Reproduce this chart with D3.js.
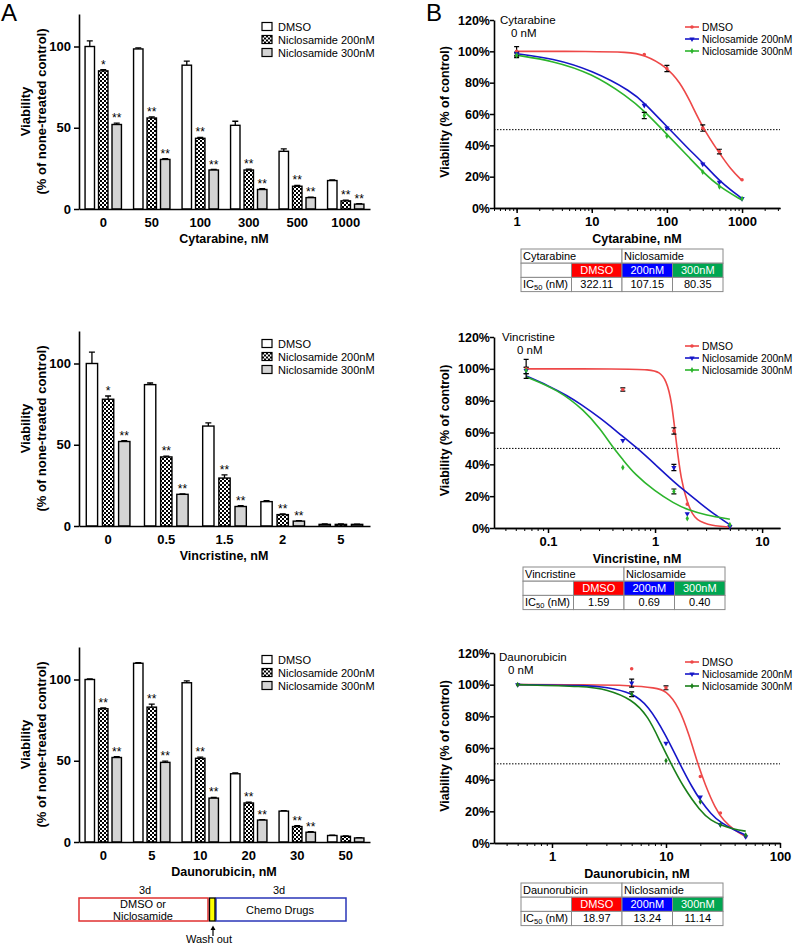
<!DOCTYPE html>
<html>
<head>
<meta charset="utf-8">
<script src="https://cdn.jsdelivr.net/npm/d3@7"></script>
<style>
  body { margin: 0; background: #fff; }
  svg { display: block; font-family: Arial, "Liberation Sans", sans-serif; }
</style>
</head>
<body>
<svg id="chart" width="794" height="944"></svg>
<script>
// ---------- data ----------
let groups = ['DMSO', 'Niclosamide 200nM', 'Niclosamide 300nM']

// panel A: viability, % of none-treated control
let cytDoses = ['0', '50', '100', '300', '500', '1000']
let cytBarDMSO = [100, 98.5, 88.5, 51.5, 35.5, 17.5]
let cytBar200 = [85, 56, 43.5, 24, 14, 5]
let cytBar300 = [52, 30.5, 24, 12, 7, 3]
let cytErrDMSO = [3.5, 0.7, 2.5, 2.5, 1.5, 0.4]
let cytErr200 = [0.7, 0.7, 0.6, 0.5, 0.5, 0.5]
let cytErr300 = [0.8, 0.5, 0.3, 0.5, 0.3, 0.3]
let cytStars200 = ['*', '**', '**', '**', '**', '**']
let cytStars300 = ['**', '**', '**', '**', '**', '**']

let vinDoses = ['0', '0.5', '1.5', '2', '5']
let vinBarDMSO = [100, 87, 61.5, 15, 1]
let vinBar200 = [78, 42.5, 29.5, 7, 1]
let vinBar300 = [52, 19.5, 12, 3, 1]
let vinErrDMSO = [7, 1, 2, 0.6, 0.3]
let vinErr200 = [2, 0.5, 2, 0.4, 0.3]
let vinErr300 = [0.6, 0.3, 0.6, 0.3, 0.2]
let vinStars200 = ['*', '**', '**', '**', '']
let vinStars300 = ['**', '**', '**', '**', '']

let dauDoses = ['0', '5', '10', '20', '30', '50']
let dauBarDMSO = [100, 110, 98, 42, 19, 4]
let dauBar200 = [82, 83, 51.5, 24, 9.5, 3.5]
let dauBar300 = [52, 49, 27, 13.5, 6, 2.5]
let dauErrDMSO = [0.3, 0.4, 1.2, 0.5, 0.3, 0.2]
let dauErr200 = [0.6, 1.8, 0.7, 0.5, 0.5, 0.3]
let dauErr300 = [0.5, 0.8, 0.4, 0.3, 0.3, 0.2]
let dauStars200 = ['**', '**', '**', '**', '**', '']
let dauStars300 = ['**', '**', '**', '**', '**', '']

// panel B: viability, % of control, with fitted curves
let cytConc = [1, 50, 100, 300, 500, 1000]
let cytPctDMSO = [100, 98, 89, 51, 36, 18]
let cytPct200 = [98.5, 65.5, 51, 28, 16.5, 6]
let cytPct300 = [97.5, 59, 46, 23, 13.5, 6]
let cytPctErrDMSO = [3, 0.5, 2, 2, 1.5, 0.5]
let cytPctErr200 = [1, 0.5, 0.5, 0.8, 0.5, 0.5]
let cytPctErr300 = [1.5, 2, 0.5, 0.5, 0.5, 0.5]
let cytFitDMSO = [[1, 100], [10, 100], [30, 99.5], [50, 98], [100, 90], [150, 80], [200, 69], [300, 51], [500, 35], [700, 25], [1000, 17.5]]
let cytFit200 = [[1, 98.5], [3, 95.5], [10, 88], [35, 74], [50, 67], [100, 52], [200, 37], [300, 29], [500, 17], [1000, 6]]
let cytFit300 = [[1, 97.5], [3, 94], [10, 86], [30, 71], [50, 62], [100, 47], [200, 32], [300, 23], [500, 13.5], [1000, 5]]
let cytIC50 = ['322.11', '107.15', '80.35']

let vinConc = [0.0625, 0.5, 1.5, 2, 5]
let vinPctDMSO = [100, 87, 61, 15, 1]
let vinPct200 = [99, 55, 38, 9, 1]
let vinPct300 = [99, 38, 23, 6, 2]
let vinPctErrDMSO = [6, 1, 2, 0.5, 0.3]
let vinPctErr200 = [2, 0.5, 2, 0.5, 0.3]
let vinPctErr300 = [2, 0.5, 1.5, 0.5, 0.3]
let vinFitDMSO = [[0.0625, 100], [0.5, 100], [0.9, 99.5], [1.1, 98], [1.27, 93], [1.43, 80], [1.57, 55], [1.75, 30], [2, 16], [2.3, 6], [3, 2], [5, 0.5]]
let vinFit200 = [[0.0625, 95.5], [0.1, 89.5], [0.153, 83], [0.2, 78], [0.31, 69], [0.45, 60], [0.69, 50], [1, 40], [1.5, 29], [2, 22], [2.7, 15], [3.5, 9], [5, 2]]
let vinFit300 = [[0.0625, 95], [0.123, 87], [0.218, 74], [0.31, 62], [0.4, 51], [0.5, 43], [0.64, 34], [1, 23], [1.5, 15.5], [2, 11.5], [3, 8], [5, 5.5]]
let vinIC50 = ['1.59', '0.69', '0.40']

let dauConc = [0.5, 5, 10, 20, 30, 50]
let dauPctDMSO = [100, 110, 98, 42, 19, 4]
let dauPct200 = [100, 101, 63, 29, 11.5, 4]
let dauPct300 = [100, 94, 52, 26, 11.5, 5]
let dauPctErrDMSO = [0.5, 0.3, 1.2, 0.5, 0.3, 0.3]
let dauPctErr200 = [0.5, 2.5, 0.5, 0.5, 0.5, 0.3]
let dauPctErr300 = [0.5, 1.5, 0.5, 0.5, 0.5, 0.3]
let dauFitDMSO = [[0.5, 100], [2, 100], [5, 99.5], [8, 98], [10, 96.5], [13, 86], [16, 68], [19, 50], [22, 37], [27, 22], [32, 14], [40, 8], [50, 4]]
let dauFit200 = [[0.5, 100], [2, 99.5], [3, 98.5], [5, 95], [7, 87], [10, 68], [13.2, 50], [17, 35], [20, 27], [25, 18], [30, 13], [40, 8], [50, 5]]
let dauFit300 = [[0.5, 100], [2, 99], [3, 97], [5, 91], [7, 80], [9, 63], [11.1, 50], [14, 36], [20, 20], [25, 14], [30, 11.5], [40, 8.5], [50, 7.5]]
let dauIC50 = ['18.97', '13.24', '11.14']

// ---------- setup ----------
let FONT = 'Arial, "Liberation Sans", sans-serif'
let svg = d3.select('#chart')
let defs = svg.append('defs')
let pat = defs.append('pattern').attr('id', 'checks')
    .attr('width', 4).attr('height', 4).attr('patternUnits', 'userSpaceOnUse')
pat.append('rect').attr('width', 4).attr('height', 4).attr('fill', '#fff')
pat.append('rect').attr('width', 2).attr('height', 2).attr('fill', '#000')
pat.append('rect').attr('x', 2).attr('y', 2).attr('width', 2).attr('height', 2).attr('fill', '#000')

let barFills = ['#fff', 'url(#checks)', '#d4d4d4']
let cellFills = ['#ff0000', '#0000ff', '#00a651']

let styleAxis = (sel, size) => {
    sel.attr('font-family', FONT)
    sel.selectAll('text').attr('font-size', size).attr('font-weight', 'bold').attr('fill', '#000')
    sel.selectAll('line').attr('stroke-width', 1.5)
    sel.select('.domain').attr('stroke-width', 1.6)
}

// ---------- bar panels (A) ----------
let drawBars = (top, doses, vals, errs, stars, title) => {
    let g = svg.append('g')
    let y = d3.scaleLinear().domain([0, 120]).range([top + 195, top])
    let x = d3.scaleBand().domain(doses).range([79, 370]).paddingInner(0.25).paddingOuter(0.125)
    let xs = d3.scaleBand().domain(groups).range([0, x.bandwidth()]).paddingInner(0.3)
    let rows = doses.flatMap((d, i) => groups.map((grp, k) => ({
        dose: d, grp: grp, k: k, v: vals[k][i], e: errs[k][i], s: k ? stars[k - 1][i] : ''
    })))
    let bx = r => x(r.dose) + xs(r.grp)
    let cx = r => bx(r) + xs.bandwidth() / 2

    g.selectAll('.err').data(rows).enter().append('path')
        .attr('d', r => `M${cx(r)},${y(r.v)}V${y(r.v + r.e)}M${cx(r) - 3},${y(r.v + r.e)}H${cx(r) + 3}`)
        .attr('stroke', '#000').attr('stroke-width', 1.3).attr('fill', 'none')

    g.selectAll('.bar').data(rows).enter().append('rect')
        .attr('x', bx).attr('y', r => y(r.v))
        .attr('width', xs.bandwidth()).attr('height', r => y(0) - y(r.v))
        .attr('fill', r => barFills[r.k]).attr('stroke', '#000').attr('stroke-width', 1.4)

    g.selectAll('.star').data(rows.filter(r => r.s)).enter().append('text')
        .attr('x', cx).attr('y', r => y(r.v + r.e) - 1)
        .attr('text-anchor', 'middle').attr('font-size', 12).text(r => r.s)

    let ya = g.append('g').attr('transform', 'translate(79,0)')
        .call(d3.axisLeft(y).tickValues([0, 50, 100]).tickSize(5).tickSizeOuter(0).tickPadding(3))
    styleAxis(ya, 13)
    let xa = g.append('g').attr('transform', `translate(0,${y(0)})`)
        .call(d3.axisBottom(x).tickSize(0).tickPadding(9))
    styleAxis(xa, 13)

    g.append('text').attr('x', 224).attr('y', y(0) + 34).attr('text-anchor', 'middle')
        .attr('font-size', 12.5).attr('font-weight', 'bold').text(title)
    let mid = (y(0) + y(120)) / 2
    g.append('text').attr('transform', `translate(25,${mid}) rotate(-90)`).attr('dy', '0.35em')
        .attr('text-anchor', 'middle').attr('font-size', 13).attr('font-weight', 'bold').text('Viability')
    g.append('text').attr('transform', `translate(41,${mid}) rotate(-90)`).attr('dy', '0.35em')
        .attr('text-anchor', 'middle').attr('font-size', 13).attr('font-weight', 'bold')
        .text('(% of none-treated control)')

    let leg = g.selectAll('.leg').data(groups).enter().append('g')
        .attr('transform', (d, k) => `translate(262,${top + 12.5 + k * 13})`)
    leg.append('rect').attr('x', 0).attr('y', -4).attr('width', 10).attr('height', 8)
        .attr('fill', (d, k) => barFills[k]).attr('stroke', '#000').attr('stroke-width', 1.2)
    leg.append('text').attr('x', 16).attr('y', 4).attr('font-size', 11).text(d => d)
}

// ---------- dose-response panels (B) ----------
let symbols = [
    d3.symbol().type(d3.symbolCircle).size(10)(),
    d3.symbol().type(d3.symbolTriangle).size(12)(),
    d3.symbol().type(d3.symbolDiamond).size(10)()
]
let symRot = [0, 180, 0]

let drawCurves = p => {
    let g = svg.append('g')
    let y = d3.scaleLinear().domain([0, 120]).range([p.bottom, p.top])
    let x = d3.scaleLog().domain(p.domain).range([494, 780])

    let minor = g.append('g').attr('transform', `translate(0,${p.bottom})`)
        .call(d3.axisBottom(x).tickValues(x.ticks()).tickSize(3).tickSizeOuter(0).tickFormat(''))
    styleAxis(minor, 13)
    minor.selectAll('line').attr('stroke-width', 1)
    let major = g.append('g').attr('transform', `translate(0,${p.bottom})`)
        .call(d3.axisBottom(x).tickValues(p.majors).tickSize(5).tickSizeOuter(0).tickPadding(4).tickFormat(d3.format('~g')))
    styleAxis(major, 13)
    let ya = g.append('g').attr('transform', 'translate(494,0)')
        .call(d3.axisLeft(y).tickValues([0, 20, 40, 60, 80, 100, 120]).tickFormat(d => d + '%')
            .tickSize(4).tickSizeOuter(0).tickPadding(0))
    styleAxis(ya, 12.5)

    g.append('path').attr('d', `M494,${y(50)}H780`).attr('stroke', '#000')
        .attr('stroke-width', 1).attr('stroke-dasharray', '1.5,1.5')

    let line = d3.line().x(d => x(d[0])).y(d => y(d[1])).curve(d3.curveBasis)
    g.selectAll('.fit').data(p.fits).enter().append('path')
        .attr('d', line).attr('fill', 'none')
        .attr('stroke', (d, k) => p.colors[k]).attr('stroke-width', 1.6)

    let pts = p.pcts.flatMap((arr, k) => arr.map((v, i) => ({k: k, c: p.conc[i], v: v, e: p.errs[k][i]})))
    g.selectAll('.perr').data(pts.filter(d => d.e >= 1)).enter().append('path')
        .attr('d', d => {
            let px = x(d.c), y1 = y(d.v - d.e), y2 = y(d.v + d.e)
            return `M${px},${y1}V${y2}M${px - 2.5},${y1}H${px + 2.5}M${px - 2.5},${y2}H${px + 2.5}`
        })
        .attr('stroke', '#000').attr('stroke-width', 1.2).attr('fill', 'none')
    g.selectAll('.pt').data(pts).enter().append('path')
        .attr('d', d => symbols[d.k])
        .attr('transform', d => `translate(${x(d.c)},${y(d.v)}) rotate(${symRot[d.k]})`)
        .attr('fill', d => p.colors[d.k])

    g.append('text').attr('x', 637).attr('y', p.bottom + 35).attr('text-anchor', 'middle')
        .attr('font-size', 12.5).attr('font-weight', 'bold').text(p.title)
    g.append('text').attr('transform', `translate(445,${(p.top + p.bottom) / 2 - 2}) rotate(-90)`)
        .attr('dy', '0.35em').attr('text-anchor', 'middle')
        .attr('font-size', 12.5).attr('font-weight', 'bold').text('Viability (% of control)')

    g.append('text').attr('x', p.labelX[0]).attr('y', p.labelY).attr('font-size', 11.5).text(p.drug)
    g.append('text').attr('x', p.labelX[1]).attr('y', p.labelY + 13).attr('font-size', 11.5).text('0 nM')

    let leg = g.selectAll('.leg').data(groups).enter().append('g')
        .attr('transform', (d, k) => `translate(685,${p.top + p.legendDy + k * 12})`)
    leg.append('line').attr('x1', 0).attr('x2', 14)
        .attr('stroke', (d, k) => p.colors[k]).attr('stroke-width', 1.6)
    leg.append('path').attr('d', (d, k) => symbols[k])
        .attr('transform', (d, k) => `translate(7,0) rotate(${symRot[k]})`)
        .attr('fill', (d, k) => p.colors[k])
    leg.append('text').attr('x', 17).attr('y', 4).attr('font-size', 10.3).text(d => d)

    drawTable(p.table[0], p.table[1], p.drug, p.ic50)
}

// ---------- IC50 tables ----------
let drawTable = (x0, y0, drug, ic50) => {
    let g = svg.append('g').attr('font-size', 11)
    let cw = 50.5, rh = 14.2
    let cells = [
        {c: 0, r: 0, span: 2, text: drug, fill: '#fff', color: '#000', anchor: 'start'},
        {c: 2, r: 0, span: 2, text: 'Niclosamide', fill: '#fff', color: '#000', anchor: 'start'},
        {c: 0, r: 1, span: 1, text: '', fill: '#fff', color: '#000', anchor: 'middle'},
        {c: 1, r: 1, span: 1, text: 'DMSO', fill: cellFills[0], color: '#fff', anchor: 'middle'},
        {c: 2, r: 1, span: 1, text: '200nM', fill: cellFills[1], color: '#fff', anchor: 'middle'},
        {c: 3, r: 1, span: 1, text: '300nM', fill: cellFills[2], color: '#fff', anchor: 'middle'},
        {c: 0, r: 2, span: 1, text: null, fill: '#fff', color: '#000', anchor: 'start'},
        {c: 1, r: 2, span: 1, text: ic50[0], fill: '#fff', color: '#000', anchor: 'middle'},
        {c: 2, r: 2, span: 1, text: ic50[1], fill: '#fff', color: '#000', anchor: 'middle'},
        {c: 3, r: 2, span: 1, text: ic50[2], fill: '#fff', color: '#000', anchor: 'middle'}
    ]
    g.selectAll('rect').data(cells).enter().append('rect')
        .attr('x', d => x0 + d.c * cw).attr('y', d => y0 + d.r * rh)
        .attr('width', d => d.span * cw).attr('height', rh)
        .attr('fill', d => d.fill).attr('stroke', '#8a8a8a').attr('stroke-width', 1)
    g.selectAll('.cell').data(cells.filter(d => d.text)).enter().append('text')
        .attr('x', d => d.anchor === 'start' ? x0 + d.c * cw + 2 : x0 + (d.c + d.span / 2) * cw)
        .attr('y', d => y0 + d.r * rh + 10.8)
        .attr('text-anchor', d => d.anchor).attr('fill', d => d.color).text(d => d.text)
    let ic = g.append('text').attr('x', x0 + 2).attr('y', y0 + 2 * rh + 10.8)
    ic.append('tspan').text('IC')
    ic.append('tspan').attr('font-size', 7.5).attr('dy', 2).text('50')
    ic.append('tspan').attr('dy', -2).text(' (nM)')
}

// ---------- draw ----------
drawBars(14, cytDoses, [cytBarDMSO, cytBar200, cytBar300], [cytErrDMSO, cytErr200, cytErr300],
    [cytStars200, cytStars300], 'Cytarabine, nM')
drawBars(331, vinDoses, [vinBarDMSO, vinBar200, vinBar300], [vinErrDMSO, vinErr200, vinErr300],
    [vinStars200, vinStars300], 'Vincristine, nM')
drawBars(647, dauDoses, [dauBarDMSO, dauBar200, dauBar300], [dauErrDMSO, dauErr200, dauErr300],
    [dauStars200, dauStars300], 'Daunorubicin, nM')

let curveColors = ['#ee4848', '#1616c8', '#2cb42c']
drawCurves({
    top: 20, bottom: 208, domain: [0.5, 3200], majors: [1, 10, 100, 1000],
    conc: cytConc, pcts: [cytPctDMSO, cytPct200, cytPct300], errs: [cytPctErrDMSO, cytPctErr200, cytPctErr300],
    fits: [cytFitDMSO, cytFit200, cytFit300], colors: curveColors,
    drug: 'Cytarabine', labelX: [500, 511], labelY: 24, legendDy: 7,
    title: 'Cytarabine, nM', ic50: cytIC50, table: [521, 249]
})
drawCurves({
    top: 337, bottom: 528, domain: [0.0313, 14.7], majors: [0.1, 1, 10],
    conc: vinConc, pcts: [vinPctDMSO, vinPct200, vinPct300], errs: [vinPctErrDMSO, vinPctErr200, vinPctErr300],
    fits: [vinFitDMSO, vinFit200, vinFit300], colors: curveColors,
    drug: 'Vincristine', labelX: [502, 517], labelY: 341, legendDy: 9,
    title: 'Vincristine, nM', ic50: vinIC50, table: [523, 567]
})
drawCurves({
    top: 653, bottom: 843, domain: [0.31, 100], majors: [1, 10, 100],
    conc: dauConc, pcts: [dauPctDMSO, dauPct200, dauPct300], errs: [dauPctErrDMSO, dauPctErr200, dauPctErr300],
    fits: [dauFitDMSO, dauFit200, dauFit300], colors: ['#ee4848', '#1616c8', '#1a7f1a'],
    drug: 'Daunorubicin', labelX: [499, 508], labelY: 661, legendDy: 9,
    title: 'Daunorubicin, nM', ic50: dauIC50, table: [521, 883]
})

// panel letters
svg.append('text').attr('x', 1).attr('y', 21).attr('font-size', 24).text('A')
svg.append('text').attr('x', 426).attr('y', 21).attr('font-size', 24).text('B')

// treatment schedule
let tl = svg.append('g').attr('font-size', 11).attr('text-anchor', 'middle')
tl.append('text').attr('x', 145).attr('y', 894).text('3d')
tl.append('text').attr('x', 279).attr('y', 894).text('3d')
tl.append('rect').attr('x', 79).attr('y', 898).attr('width', 129).attr('height', 23)
    .attr('fill', 'none').attr('stroke', '#e03030').attr('stroke-width', 1.5)
tl.append('rect').attr('x', 216).attr('y', 898).attr('width', 130).attr('height', 23)
    .attr('fill', 'none').attr('stroke', '#2a36b8').attr('stroke-width', 1.5)
tl.append('rect').attr('x', 209.5).attr('y', 898).attr('width', 5.5).attr('height', 23)
    .attr('fill', '#ffff00').attr('stroke', '#000').attr('stroke-width', 1.3)
tl.append('text').attr('x', 143).attr('y', 908).text('DMSO or')
tl.append('text').attr('x', 143).attr('y', 920).text('Niclosamide')
tl.append('text').attr('x', 280).attr('y', 914).text('Chemo Drugs')
tl.append('path').attr('d', 'M213,936V929').attr('stroke', '#000').attr('stroke-width', 1.2)
tl.append('path').attr('d', 'M210.5,930L213,925.5L215.5,930Z').attr('fill', '#000')
tl.append('text').attr('x', 209).attr('y', 943).text('Wash out')
</script>
</body>
</html>
